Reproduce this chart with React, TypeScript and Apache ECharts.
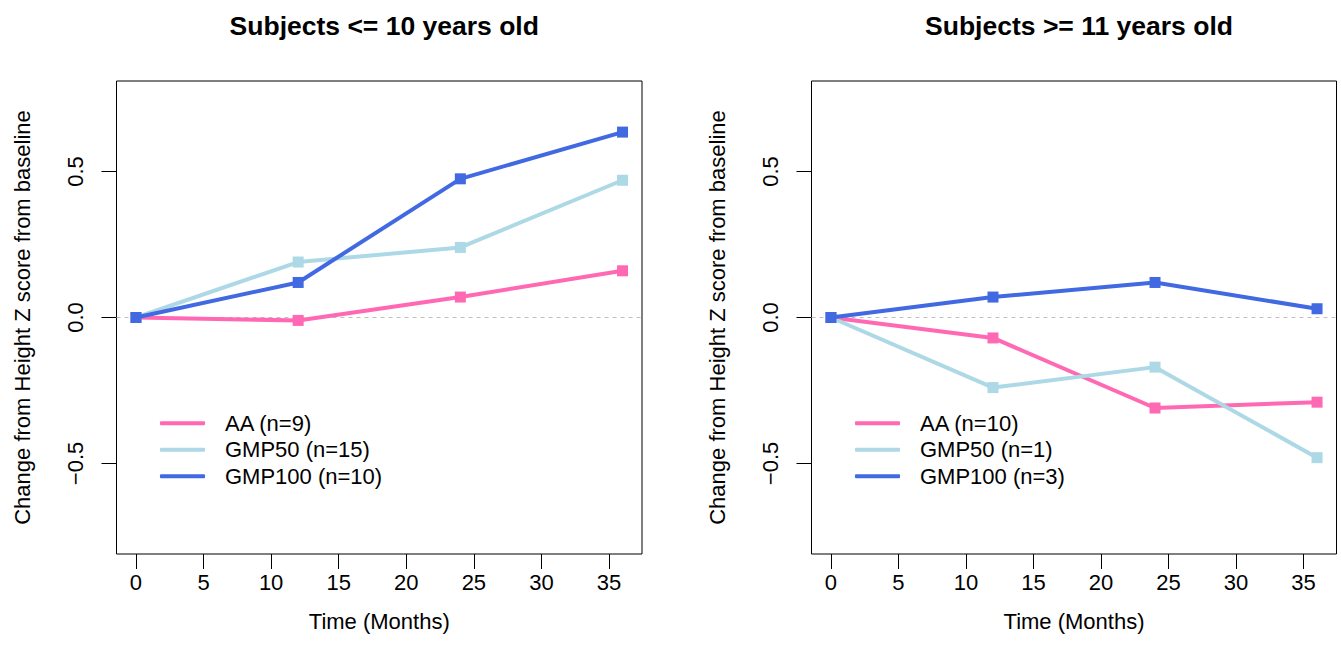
import React, { useEffect, useRef } from "react";
import * as echarts from "echarts";

const months = [0, 12, 24, 36];
const xTicks = [0, 5, 10, 15, 20, 25, 30, 35];
const yTicks = [-0.5, 0, 0.5];

const groupNames = ["AA", "GMP50", "GMP100"];
const colors = ["#FF69B4", "#ADD8E6", "#4169E1"];

const youngTitle = "Subjects <= 10 years old";
const oldTitle = "Subjects >= 11 years old";
const youngN = [9, 15, 10];
const oldN = [10, 1, 3];

const youngAA = [0, -0.01, 0.07, 0.16];
const youngGMP50 = [0, 0.19, 0.24, 0.47];
const youngGMP100 = [0, 0.12, 0.475, 0.635];

const oldAA = [0, -0.07, -0.31, -0.29];
const oldGMP50 = [0, -0.24, -0.17, -0.48];
const oldGMP100 = [0, 0.07, 0.12, 0.03];

const FONT = "Liberation Sans, Arial, Helvetica, sans-serif";

export default function App() {
  const ref = useRef<HTMLDivElement>(null);
  useEffect(() => {
    if (!ref.current) return;
    const chart = echarts.init(ref.current, null, { renderer: "svg" });
    const grids = [
      { left: 116.5, top: 81, width: 525.5, height: 473 },
      { left: 811.5, top: 81, width: 525, height: 473 },
    ];
    const panels = [
      { title: youngTitle, n: youngN, data: [youngAA, youngGMP50, youngGMP100], legendLeft: 155 },
      { title: oldTitle, n: oldN, data: [oldAA, oldGMP50, oldGMP100], legendLeft: 850 },
    ];
    const fmtY = (v: number) => v.toFixed(1).replace("-", "\u2212");
    const series: any[] = [];
    const legends: any[] = [];
    panels.forEach((p, pi) => {
      const names = groupNames.map((g, i) => `${g} (n=${p.n[i]})`);
      p.data.forEach((vals, i) => {
        series.push({
          type: "line",
          name: names[i],
          xAxisIndex: pi,
          yAxisIndex: pi,
          data: months.map((m, k) => [m, vals[k]]),
          symbol: "rect",
          symbolSize: 11,
          lineStyle: { width: 4, color: colors[i] },
          itemStyle: { color: colors[i] },
          z: 3 + i,
          markLine:
            i === 0
              ? {
                  silent: true,
                  symbol: "none",
                  label: { show: false },
                  lineStyle: { type: [4, 4], color: "#BEBEBE", width: 1 },
                  data: [{ yAxis: 0 }],
                  z: 1,
                }
              : undefined,
        });
      });
      legends.push({
        data: names,
        orient: "vertical",
        left: p.legendLeft,
        top: 405,
        itemWidth: 45,
        itemHeight: 4,
        itemGap: 0,
        icon: "roundRect",
        textStyle: {
          fontSize: 22,
          fontFamily: FONT,
          color: "#000",
          lineHeight: 26.5,
          padding: [0, 0, 0, 15],
        },
      });
    });
    const axisCommon = {
      axisLine: { show: false, onZero: false },
      splitLine: { show: false },
      axisTick: { show: true, length: 15, inside: false, lineStyle: { color: "#000", width: 1 } },
    };
    chart.setOption({
      animation: false,
      backgroundColor: "#fff",
      title: panels.map((p, pi) => ({
        text: p.title,
        left: grids[pi].left + grids[pi].width / 2,
        top: 7,
        textAlign: "center",
        textStyle: { fontSize: 26.5, fontWeight: "bold", fontFamily: FONT, color: "#000" },
      })),
      legend: legends,
      grid: grids.map((g) => ({ ...g, show: true, borderColor: "#000", borderWidth: 1, containLabel: false })),
      xAxis: grids.map((_, gi) => ({
        type: "value",
        gridIndex: gi,
        position: "bottom",
        min: -1.44,
        max: 37.44,
        name: "Time (Months)",
        nameLocation: "middle",
        nameGap: 56,
        nameTextStyle: { fontSize: 22, fontFamily: FONT, color: "#000" },
        ...axisCommon,
        axisTick: { ...axisCommon.axisTick, customValues: xTicks },
        axisLabel: {
          customValues: xTicks,
          fontSize: 22,
          fontFamily: FONT,
          color: "#000",
          margin: 17,
        },
      })),
      yAxis: grids.map((_, gi) => ({
        type: "value",
        gridIndex: gi,
        position: "left",
        min: -0.81,
        max: 0.81,
        name: "Change from Height Z score from baseline",
        nameLocation: "middle",
        nameGap: 83,
        nameTextStyle: { fontSize: 22, fontFamily: FONT, color: "#000" },
        ...axisCommon,
        axisTick: { ...axisCommon.axisTick, customValues: yTicks },
        axisLabel: {
          customValues: yTicks,
          formatter: fmtY,
          rotate: 90,
          fontSize: 22,
          fontFamily: FONT,
          color: "#000",
          margin: 30,
        },
      })),
      series,
    });
    return () => chart.dispose();
  }, []);
  return <div ref={ref} style={{ width: 1341, height: 664, position: "absolute", left: 0, top: 0 }} />;
}
